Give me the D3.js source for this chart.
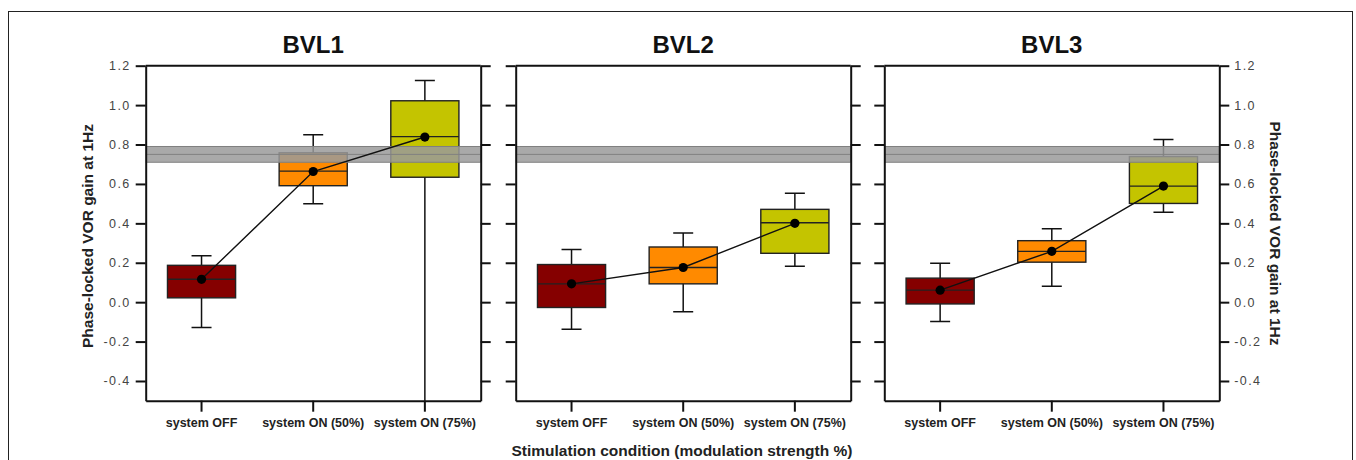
<!DOCTYPE html>
<head>
    <meta charset="utf-8">
    <style>
        body { margin: 0; background: #fff; }
        text { font-family: "Liberation Sans", Arial, sans-serif; }
    </style>
    <script src="https://cdn.jsdelivr.net/npm/d3@7"></script>
</head>
<body>
<div id="block"></div>
<script>

    // panels and categories
    var panels = ["BVL1", "BVL2", "BVL3"];
    var conditions = ["system OFF", "system ON (50%)", "system ON (75%)"];
    var yTicks = [-0.4, -0.2, 0.0, 0.2, 0.4, 0.6, 0.8, 1.0, 1.2];

    // box statistics per panel (rows) and condition (columns)
    var whiskerLow  = [[-0.128, 0.500, -0.60], [-0.138, -0.049, 0.182], [-0.098, 0.081, 0.456]];
    var q1          = [[ 0.022, 0.591,  0.634], [-0.027,  0.093, 0.248], [-0.009, 0.203, 0.501]];
    var median      = [[ 0.116, 0.665,  0.840], [ 0.093,  0.176, 0.403], [ 0.061, 0.258, 0.589]];
    var q3          = [[ 0.187, 0.758,  1.022], [ 0.191,  0.280, 0.471], [ 0.122, 0.312, 0.739]];
    var whiskerHigh = [[ 0.236, 0.849,  1.125], [ 0.267,  0.351, 0.553], [ 0.197, 0.373, 0.825]];
    var means       = [[ 0.116, 0.663,  0.838], [ 0.093,  0.176, 0.400], [ 0.061, 0.258, 0.589]];

    // normal range band (healthy reference)
    var bandLow = 0.71, bandMid = 0.75, bandHigh = 0.79;

    var colors = ["#850000", "#ff8a00", "#c4c400"];

    var w = 1356, h = 460;
    var panelLeft = [145.7, 515.7, 884.3];
    var panelWidth = 335;
    var plotTop = 65.7, plotBottom = 400.7;

    // plain hyphen for negative tick labels
    var format = d3.formatLocale({decimal: ".", thousands: ",", grouping: [3], currency: ["", ""], minus: "-"}).format(".1f");

    var svg = d3.select("#block").append("svg")
        .attr("width", w)
        .attr("height", h);

    // outer frame
    svg.append("rect")
        .attr("x", 8.5).attr("y", 11.5)
        .attr("width", 1344).attr("height", 470)
        .attr("fill", "none")
        .attr("stroke", "#222")
        .attr("stroke-width", 1);

    var y = d3.scaleLinear().domain([-0.5, 1.2]).range([plotBottom, plotTop]);

    panels.forEach(function(name, p) {

        var x0 = panelLeft[p];
        var x = d3.scaleBand().domain(conditions).range([x0, x0 + panelWidth]);
        var bw = x.bandwidth() * 0.61;
        var cw = 20;
        var cx = function(c) { return x(c) + x.bandwidth() / 2; };

        var g = svg.append("g");

        g.append("clipPath").attr("id", "clip" + p)
            .append("rect")
            .attr("x", x0).attr("y", plotTop)
            .attr("width", panelWidth).attr("height", plotBottom - plotTop);

        var plot = g.append("g").attr("clip-path", "url(#clip" + p + ")");

        // whiskers
        var cells = plot.selectAll(".cell")
            .data(conditions)
            .enter().append("g")
            .attr("class", "cell");

        cells.append("line")
            .attr("x1", cx).attr("x2", cx)
            .attr("y1", function(d, i) { return y(whiskerLow[p][i]); })
            .attr("y2", function(d, i) { return y(whiskerHigh[p][i]); })
            .attr("stroke", "#111").attr("stroke-width", 1.5);

        cells.append("line")
            .attr("x1", function(d) { return cx(d) - cw / 2; })
            .attr("x2", function(d) { return cx(d) + cw / 2; })
            .attr("y1", function(d, i) { return y(whiskerHigh[p][i]); })
            .attr("y2", function(d, i) { return y(whiskerHigh[p][i]); })
            .attr("stroke", "#111").attr("stroke-width", 1.5);

        cells.append("line")
            .attr("x1", function(d) { return cx(d) - cw / 2; })
            .attr("x2", function(d) { return cx(d) + cw / 2; })
            .attr("y1", function(d, i) { return y(whiskerLow[p][i]); })
            .attr("y2", function(d, i) { return y(whiskerLow[p][i]); })
            .attr("stroke", "#111").attr("stroke-width", 1.5);

        // boxes
        cells.append("rect")
            .attr("x", function(d) { return cx(d) - bw / 2; })
            .attr("width", bw)
            .attr("y", function(d, i) { return y(q3[p][i]); })
            .attr("height", function(d, i) { return y(q1[p][i]) - y(q3[p][i]); })
            .attr("fill", function(d, i) { return colors[i]; })
            .attr("stroke", "#222").attr("stroke-width", 1.4);

        cells.append("line")
            .attr("x1", function(d) { return cx(d) - bw / 2; })
            .attr("x2", function(d) { return cx(d) + bw / 2; })
            .attr("y1", function(d, i) { return y(median[p][i]); })
            .attr("y2", function(d, i) { return y(median[p][i]); })
            .attr("stroke", "#222").attr("stroke-width", 1.4);

        // normal range band
        plot.append("rect")
            .attr("x", x0).attr("width", panelWidth)
            .attr("y", y(bandHigh)).attr("height", y(bandLow) - y(bandHigh))
            .attr("fill", "#9a9a9a").attr("fill-opacity", 0.85)
            .attr("stroke", "#808080").attr("stroke-width", 1);

        plot.append("line")
            .attr("x1", x0).attr("x2", x0 + panelWidth)
            .attr("y1", y(bandMid)).attr("y2", y(bandMid))
            .attr("stroke", "#808080").attr("stroke-width", 1);

        // means line and dots
        var line = d3.line()
            .x(function(d) { return cx(d); })
            .y(function(d, i) { return y(means[p][i]); });

        plot.append("path")
            .datum(conditions)
            .attr("d", line)
            .attr("fill", "none")
            .attr("stroke", "#111").attr("stroke-width", 1.4);

        plot.selectAll(".dot")
            .data(conditions)
            .enter().append("circle")
            .attr("class", "dot")
            .attr("cx", cx)
            .attr("cy", function(d, i) { return y(means[p][i]); })
            .attr("r", 4.6)
            .attr("fill", "#000");

        // frame top
        g.append("line")
            .attr("x1", x0).attr("x2", x0 + panelWidth)
            .attr("y1", plotTop).attr("y2", plotTop)
            .attr("stroke", "#111").attr("stroke-width", 2);

        // axes
        var left = g.append("g")
            .attr("transform", "translate(" + x0 + ",0)")
            .call(d3.axisLeft(y).tickValues(yTicks).tickSize(10).tickSizeOuter(0).tickPadding(5)
                .tickFormat(p === 0 ? format : ""));

        var right = g.append("g")
            .attr("transform", "translate(" + (x0 + panelWidth) + ",0)")
            .call(d3.axisRight(y).tickValues(yTicks).tickSize(10).tickSizeOuter(0).tickPadding(5)
                .tickFormat(p === 2 ? format : ""));

        var xAxis = g.append("g")
            .attr("transform", "translate(0," + plotBottom + ")")
            .call(d3.axisBottom(x).tickSize(11).tickSizeOuter(0).tickPadding(6));

        [left, right, xAxis].forEach(function(a) {
            a.select(".domain").attr("stroke", "#111").attr("stroke-width", 2);
            a.selectAll(".tick line").attr("stroke", "#111").attr("stroke-width", 2);
        });

        [left, right].forEach(function(a) {
            a.selectAll("text")
                .style("font-size", "12.5px")
                .style("letter-spacing", "1.4px")
                .attr("fill", "#444");
        });
        xAxis.selectAll("text")
            .style("font-size", "12.5px")
            .style("font-weight", "bold")
            .attr("fill", "#222");

        // title
        g.append("text")
            .attr("x", x0 + panelWidth / 2)
            .attr("y", 53)
            .attr("text-anchor", "middle")
            .style("font-size", "24px")
            .style("font-weight", "bold")
            .attr("fill", "#111")
            .text(name);
    });

    // axis titles
    svg.append("text")
        .attr("transform", "translate(93,236) rotate(-90)")
        .attr("text-anchor", "middle")
        .style("font-size", "15.5px")
        .style("font-weight", "bold")
        .attr("fill", "#222")
        .text("Phase-locked VOR gain at 1Hz");

    svg.append("text")
        .attr("transform", "translate(1270,233.5) rotate(90)")
        .attr("text-anchor", "middle")
        .style("font-size", "15.5px")
        .style("font-weight", "bold")
        .attr("fill", "#222")
        .text("Phase-locked VOR gain at 1Hz");

    svg.append("text")
        .attr("x", 682)
        .attr("y", 456)
        .attr("text-anchor", "middle")
        .style("font-size", "15.5px")
        .style("font-weight", "bold")
        .attr("fill", "#222")
        .text("Stimulation condition (modulation strength %)");

</script>
</body>
